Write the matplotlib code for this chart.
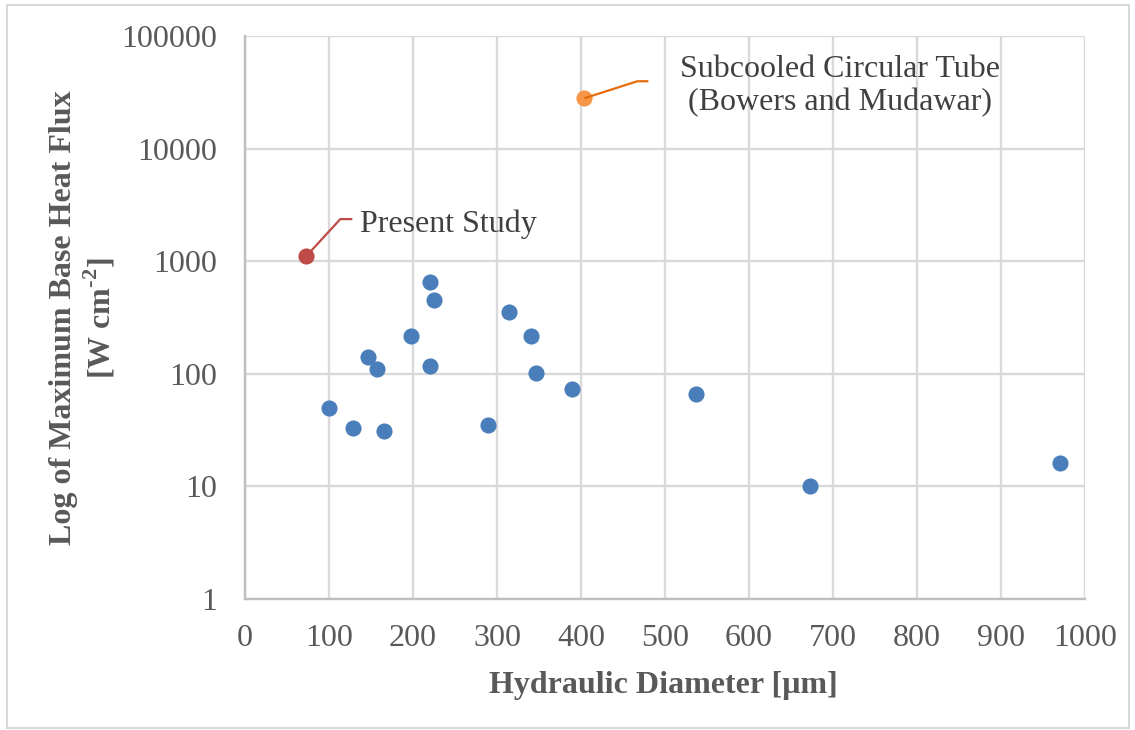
import matplotlib
matplotlib.use('Agg')
import matplotlib.pyplot as plt
from matplotlib.patches import Rectangle

plt.rcParams['font.family'] = ['Liberation Serif', 'DejaVu Serif']
plt.rcParams['mathtext.fontset'] = 'custom'
plt.rcParams['mathtext.rm'] = 'Liberation Serif'
plt.rcParams['mathtext.bf'] = 'Liberation Serif:bold'

# literature data (hydraulic diameter in um, max base heat flux in W/cm2)
dh_lit = [100, 128, 146, 157, 165, 198, 220, 225, 220, 289, 314, 340, 346, 389, 537, 673, 970]
q_lit = [50, 33, 141, 110, 31, 217, 650, 450, 117, 35, 354, 217, 102, 73, 66, 10, 16]

dh_present = [73]
q_present = [1110]

dh_tube = [404]
q_tube = [28000]

x_ticks = [0, 100, 200, 300, 400, 500, 600, 700, 800, 900, 1000]
y_ticks = [1, 10, 100, 1000, 10000, 100000]

grey = '#595959'
grid_c = '#d9d9d9'
fs = 23

fig = plt.figure(figsize=(11.35, 7.3), dpi=100)
ax = fig.add_axes([245/1135, 1 - 599/730, 840/1135, 563/730])

ax.set_yscale('log')
ax.set_xlim(0, 1000)
ax.set_ylim(1, 100000)
ax.set_xticks(x_ticks)
ax.set_xticklabels([str(v) for v in x_ticks])
ax.set_yticks(y_ticks)
ax.set_yticklabels([str(v) for v in y_ticks])
ax.minorticks_off()
ax.tick_params(axis='both', length=0, labelsize=fs, colors=grey)
ax.tick_params(axis='y', pad=20)
ax.tick_params(axis='x', pad=18)
ax.grid(True, color=grid_c, linewidth=1.7, zorder=0)
for side in ['top', 'right']:
    ax.spines[side].set_visible(False)
for side in ['left', 'bottom']:
    ax.spines[side].set_color('#bfbfbf')
    ax.spines[side].set_linewidth(1.7)
ax.set_axisbelow(True)

ax.scatter(dh_lit, q_lit, s=135, color='#4a7ebb', zorder=3, linewidths=0)
ax.scatter(dh_present, q_present, s=135, color='#be4b48', zorder=3, linewidths=0)
ax.scatter(dh_tube, q_tube, s=135, color='#f79646', zorder=3, linewidths=0)


# leader lines drawn as pixel offsets from each point
def leader(x, y, offsets, color):
    px, py = ax.transData.transform((x, y))
    pts = [(px, py)] + [(px + dx, py + dy) for dx, dy in offsets]
    data = ax.transData.inverted().transform(pts)
    ax.plot(data[:, 0], data[:, 1], color=color, linewidth=1.6, zorder=4,
            solid_capstyle='butt')


leader(dh_present[0], q_present[0], [(34, 37), (46, 37)], '#be4b48')
leader(dh_tube[0], q_tube[0], [(53, 17), (64, 17)], '#e46c0a')

ax.annotate('Present Study', xy=(dh_present[0], q_present[0]), xytext=(54, 32),
            textcoords='offset pixels', ha='left', va='center', fontsize=fs, color='#404040')
ax.annotate('Subcooled Circular Tube\n(Bowers and Mudawar)', xy=(dh_tube[0], q_tube[0]),
            xytext=(256, 12), textcoords='offset pixels', ha='center', va='center',
            multialignment='center', fontsize=fs, color='#404040', linespacing=1.2)

fig.text(663/1135, 1 - 686/730, 'Hydraulic Diameter [μm]', ha='center', va='center',
         fontsize=fs, fontweight='bold', color=grey)
fig.text(83/1135, 1 - 318/730, 'Log of Maximum Base Heat Flux\n[W cm$^{\\mathbf{\\text{-}2}}$]',
         ha='center', va='center', rotation=90, multialignment='center', fontsize=fs,
         fontweight='bold', color=grey, linespacing=1.15)

fig.patches.append(Rectangle((7/1135, 2/730), 1122/1135, 723/730, transform=fig.transFigure,
                             fill=False, edgecolor=grid_c, linewidth=1.5))

fig.savefig('out.png', dpi=100)
